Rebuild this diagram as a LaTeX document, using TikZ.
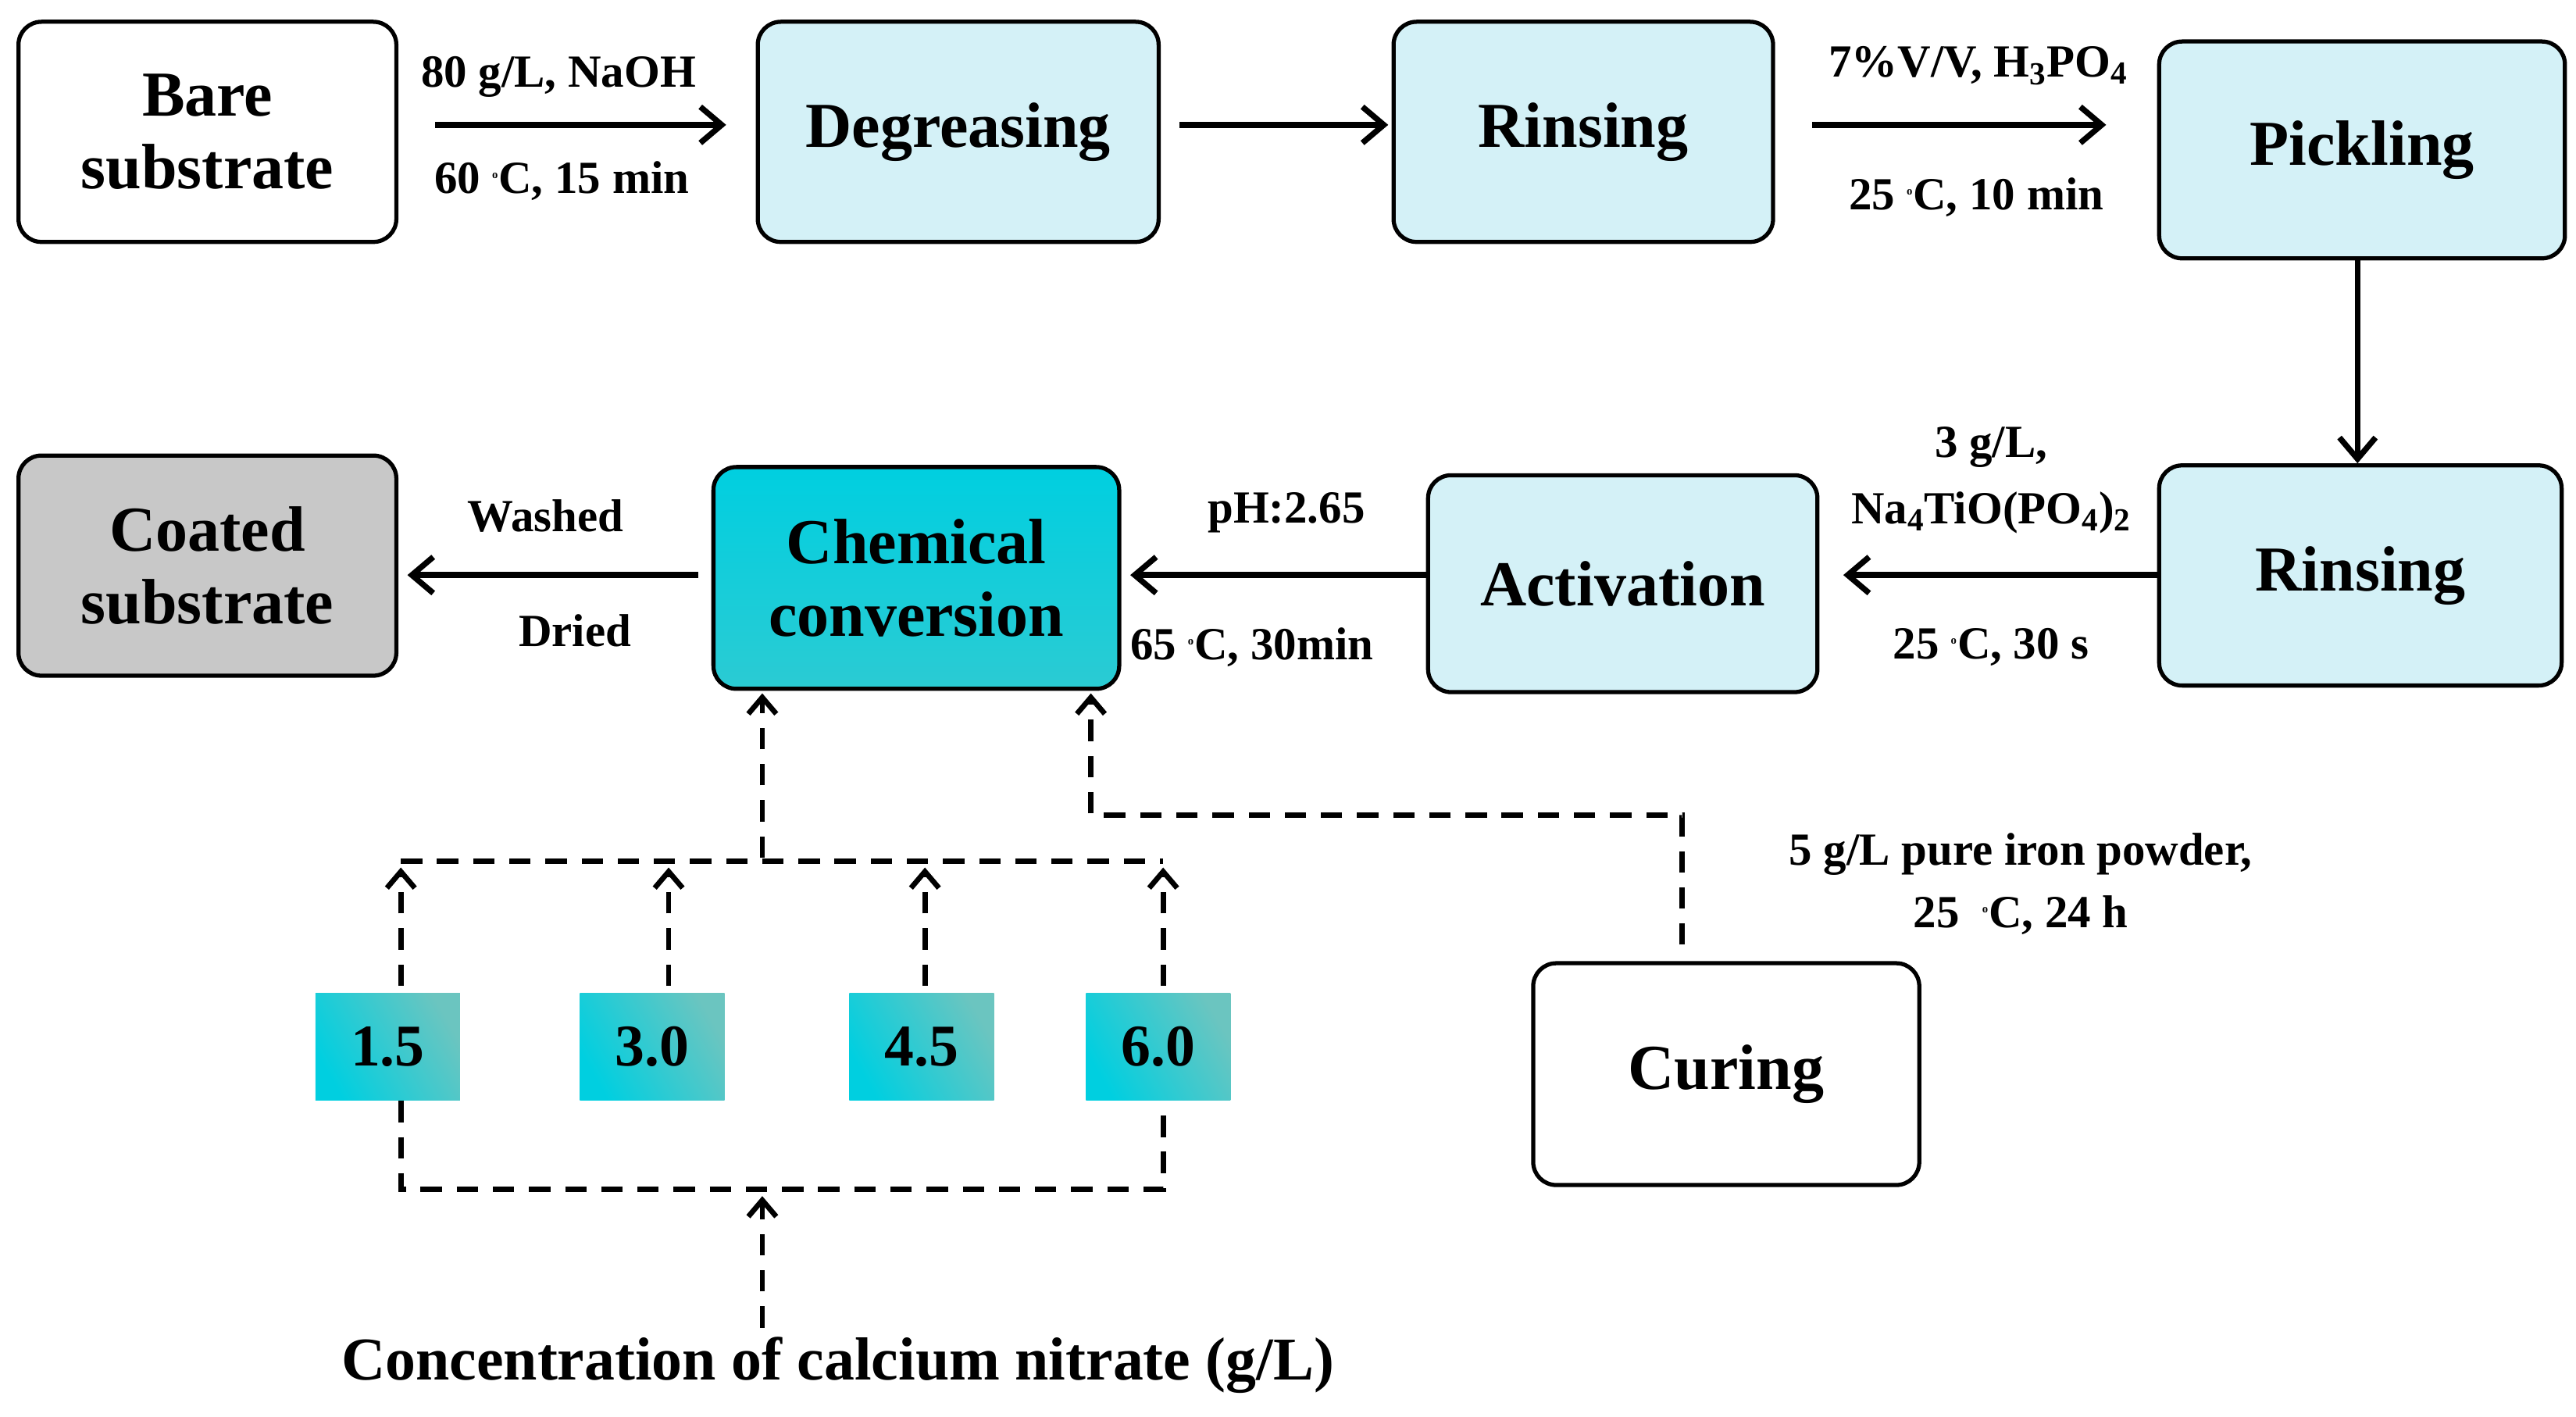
\documentclass[tikz,border=0pt]{standalone}
\usepackage{fontspec}
\setmainfont{Liberation Serif}
\usetikzlibrary{arrows.meta}
\definecolor{lb}{HTML}{D4F1F7}
\definecolor{cy}{HTML}{00CFE0}
\definecolor{cyl}{HTML}{6BC5C0}
\definecolor{gr}{HTML}{C8C8C8}
\newcommand{\degc}{\textsuperscript{\scriptsize o}C}
\begin{document}
\begin{tikzpicture}[x=1pt,y=-1pt,
 box/.style={draw,line width=2.5pt,rounded corners=14pt,font=\fontsize{39}{44}\selectfont\bfseries,align=center,anchor=north west},
 lab/.style={font=\fontsize{28}{32}\selectfont\bfseries,inner sep=0pt},
 arr/.style={-{Straight Barb[length=13pt,width=22pt]},line width=3.5pt},
 darr/.style={-{Straight Barb[length=10pt,width=17pt]},line width=3.2pt,dash pattern=on 13pt off 9pt},
 dl/.style={line width=3.2pt,dash pattern=on 13pt off 9pt},
 sq/.style={minimum width=88pt,minimum height=65pt,inner sep=0pt,font=\fontsize{36}{40}\selectfont\bfseries,shading=axis,left color=cy,right color=cyl,shading angle=120}]
\useasboundingbox (0,0) rectangle (1568,862);
\node[box,minimum width=230pt,minimum height=134pt] (bare) at (10,12) {Bare\\substrate};
\node[box,fill=lb,minimum width=244pt,minimum height=134pt] (deg) at (460,12) {Degreasing};
\node[box,fill=lb,minimum width=231pt,minimum height=134pt] (rin1) at (847,12) {Rinsing};
\node[box,fill=lb,minimum width=247pt,minimum height=132pt] (pick) at (1313,24) {Pickling};
\node[box,fill=lb,minimum width=245pt,minimum height=134pt] (rin2) at (1313,282) {Rinsing};
\node[box,fill=lb,minimum width=237pt,minimum height=132pt] (act) at (868,288) {Activation};
\node[box,minimum width=247pt,minimum height=135pt,top color=cy,bottom color=cy!60!cyl] (chem) at (433,283) {Chemical\\conversion};
\node[box,fill=gr,minimum width=230pt,minimum height=134pt] (coat) at (10,276) {Coated\\substrate};
\node[box,minimum width=235pt,minimum height=135pt] (cur) at (932,585) {Curing};
\coordinate (a1) at (265,76); \coordinate (a2) at (442,76);
\draw[arr] (a1) -- (a2);
\node[lab] at (340,47) {80 g/L, NaOH};
\node[lab] at (342,110) {60 \degc, 15 min};
\coordinate (b1) at (718,76); \coordinate (b2) at (845,76);
\draw[arr] (b1) -- (b2);
\coordinate (c1) at (1103,76); \coordinate (c2) at (1282,76);
\draw[arr] (c1) -- (c2);
\node[lab] at (1204,40) {7\%V/V, H\textsubscript{3}PO\textsubscript{4}};
\node[lab] at (1203,120) {25 \degc, 10 min};
\draw[arr] (pick.south -| 1435,0) -- (1435,282);
\draw[arr] (rin2.west |- 0,350) -- (1122,350);
\node[lab] at (1212,272) {3 g/L,};
\node[lab] at (1212,312) {Na\textsubscript{4}TiO(PO\textsubscript{4})\textsubscript{2}};
\node[lab] at (1212,394) {25 \degc, 30 s};
\draw[arr] (act.west |- 0,350) -- (688,350);
\node[lab] at (783,312) {pH:2.65};
\node[lab] at (762,394) {65 \degc, 30min};
\draw[arr] (425,350) -- (248,350);
\node[lab] at (332,314) {Washed};
\node[lab] at (350,384) {Dried};
% concentration
\node[sq] (s1) at (236,637) {1.5};
\node[sq] (s2) at (397,637) {3.0};
\node[sq] (s3) at (561,637) {4.5};
\node[sq] (s4) at (705,637) {6.0};
\coordinate (t1) at (244,524); \coordinate (t4) at (708,524);
\coordinate (bt1) at (244,724); \coordinate (bt4) at (708,724);
\draw[dl] (t1) -- (t4);
\draw[darr] (464,522) -- (464,422);
\foreach \x in {244,407,563,708}{\draw[darr] (\x,600) -- (\x,528);}
\draw[dl] (244,670) -- (bt1) -- (bt4) -- (708,670);
\draw[darr] (464,808) -- (464,728);
\node[lab,font=\fontsize{37}{40}\selectfont\bfseries] at (510,831) {Concentration of calcium nitrate (g/L)};
\draw[darr] (1024,575) -- (1024,496) -- (664,496) -- (664,422);
\node[lab] at (1230,520) {5 g/L pure iron powder,};
\node[lab] at (1230,557) {25\ \ \degc, 24 h};
\end{tikzpicture}
\end{document}
